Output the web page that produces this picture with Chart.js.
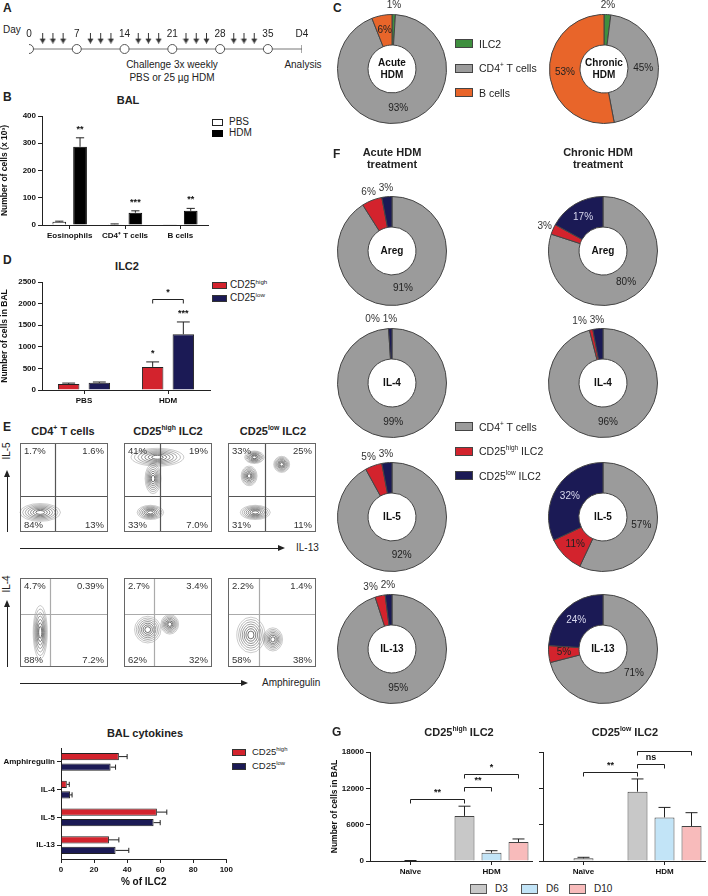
<!DOCTYPE html>
<html>
<head>
<meta charset="utf-8">
<script src="https://cdn.jsdelivr.net/npm/chart.js@4/dist/chart.umd.min.js"></script>
<style>
  body { margin: 0; background: #fff; }
  #fig { position: relative; width: 708px; height: 896px; overflow: hidden; font-family: "Liberation Sans", Arial, sans-serif; color: #222; }
  canvas { position: absolute; }
  .t { position: absolute; white-space: nowrap; font-size: 10px; line-height: 1.15; }
  .b { font-weight: bold; }
  sup { font-size: 62%; vertical-align: top; position: relative; top: -0.15em; }
  .box { position: absolute; box-sizing: border-box; border: 1px solid #333; }
</style>
</head>
<body>
<div id="fig"></div>
<script>
// ---------- data ----------
// A: protocol (days)
const weekDays = [0, 7, 14, 21, 28, 35];
const challengeDays = [2, 3.5, 5, 9, 10.5, 12, 16, 17.5, 19, 23, 24.5, 26, 30, 31.5, 33];
const analysisDay = 40;

// B: BAL cells (x 10^3)
const balCats = ['Eosinophils', 'CD4⁺ T cells', 'B cells'];
const balPBS = [12, 3, 1];
const balPBSErr = [2, 1, 0];
const balHDM = [287, 45, 52];
const balHDMErr = [33, 7, 9];
const balHDMStars = ['**', '***', '**'];

// C: share of cells, order ILC2, CD4 T cells, B cells
const cAcute = [1, 93, 6];
const cChronic = [2, 45, 53];

// D: ILC2 in BAL
const ilcCats = ['PBS', 'HDM'];
const ilcHigh = [140, 535];
const ilcHighErr = [20, 115];
const ilcHighStars = ['', '*'];
const ilcLow = [165, 1290];
const ilcLowErr = [20, 285];
const ilcLowStars = ['', '***'];
const ilcBrackets = [[0, 1, 1, 1, 2100, '*']]; // dsA, idxA, dsB, idxB, value, label

// E: flow quadrants (UL, UR, LL, LR)
const il5Quads = [['1.7%', '1.6%', '84%', '13%'], ['41%', '19%', '33%', '7.0%'], ['33%', '25%', '31%', '11%']];
const il4Quads = [['4.7%', '0.39%', '88%', '7.2%'], ['2.7%', '3.4%', '62%', '32%'], ['2.2%', '1.4%', '58%', '38%']];
const il5Gates = [[40, 40], [41, 40], [42, 40]];
const il4Gates = [[34, 60], [34, 60], [35, 60]];
// populations [x, y, spreadX, spreadY] on a 0-100 display scale
const il5Pops = [
  [[23, 22, 23, 10]],
  [[30, 22, 15, 8], [33, 60, 9, 17], [38, 84, 30, 10]],
  [[31, 22, 17, 8], [24, 63, 9, 11], [61, 76, 9, 9], [30, 84, 11, 7]]
];
const il4Pops = [
  [[23, 39, 8, 30]],
  [[27, 42, 15, 15], [52, 48, 10, 11]],
  [[26, 36, 16, 20], [51, 31, 11, 13]]
];

// F: share of cytokine+ cells, order CD4 T, CD25high ILC2, CD25low ILC2
const fRows = ['Areg', 'IL-4', 'IL-5', 'IL-13'];
const fAcute = [[91, 6, 3], [99, 0, 1], [92, 5, 3], [95, 3, 2]];
const fChronic = [[80, 3, 17], [96, 1, 3], [57, 11, 32], [71, 5, 24]];

// BAL cytokines (% of ILC2)
const cytoCats = ['Amphiregulin', 'IL-4', 'IL-5', 'IL-13'];
const cytoHigh = [35, 3.5, 58, 29];
const cytoHighErr = [5, 1.5, 6, 6];
const cytoLow = [30, 5.5, 56, 33];
const cytoLowErr = [3, 1.2, 4, 8];

// G: cells in BAL after HDM
const gCats = ['Naïve', 'HDM'];
const gHighD3 = [50, 7450];
const gHighD3Err = [30, 1600];
const gHighD6 = [null, 1370];
const gHighD6Err = [null, 330];
const gHighD10 = [null, 3140];
const gHighD10Err = [null, 500];
const gHighBrackets = [[0, 0, 0, 1, 10200, '**'], [0, 1, 1, 1, 12150, '**'], [0, 1, 2, 1, 14300, '*']];
const gLowD3 = [440, 11450];
const gLowD3Err = [170, 2100];
const gLowD6 = [null, 7200];
const gLowD6Err = [null, 1650];
const gLowD10 = [null, 5780];
const gLowD10Err = [null, 2200];
const gLowBrackets = [[0, 0, 0, 1, 14750, '**'], [0, 1, 1, 1, 16100, 'ns'], [0, 1, 2, 1, 18200, '*']];

// ---------- setup ----------
const FONT = '"Liberation Sans", Arial, sans-serif';
Chart.defaults.font.family = FONT;
Chart.defaults.color = '#111';
Chart.defaults.animation = false;
Chart.defaults.responsive = false;
Chart.defaults.maintainAspectRatio = false;
Chart.defaults.plugins.legend.display = false;
Chart.defaults.plugins.tooltip.enabled = false;

const fig = document.getElementById('fig');

function canvasAt(x, y, w, h) {
  const c = document.createElement('canvas');
  c.width = w; c.height = h;
  c.style.left = x + 'px'; c.style.top = y + 'px';
  fig.appendChild(c);
  return c.getContext('2d');
}

function label(x, y, html, css = '', anchor = 'c') {
  const d = document.createElement('div');
  d.className = 't';
  d.innerHTML = html;
  const tr = anchor === 'c' ? 'translate(-50%,-50%)' : anchor === 'l' ? 'translate(0,-50%)' : 'none';
  d.style.cssText = `left:${x}px;top:${y}px;transform:${tr};${css}`;
  fig.appendChild(d);
}

function swatch(x, y, w, h, fill, border) {
  const d = document.createElement('div');
  d.className = 'box';
  d.style.cssText = `left:${x}px;top:${y}px;width:${w}px;height:${h}px;background:${fill};border-color:${border || '#333'}`;
  fig.appendChild(d);
}

function hArrow(x1, x2, y) {
  const l = document.createElement('div');
  l.style.cssText = `position:absolute;left:${x1}px;top:${y}px;width:${x2 - x1 - 6}px;height:1px;background:#222`;
  const h = document.createElement('div');
  h.style.cssText = `position:absolute;left:${x2 - 7}px;top:${y - 3}px;width:0;height:0;border-left:7px solid #222;border-top:3.5px solid transparent;border-bottom:3.5px solid transparent`;
  fig.appendChild(l); fig.appendChild(h);
}

function vArrow(x, yBottom, yTop) {
  const l = document.createElement('div');
  l.style.cssText = `position:absolute;left:${x}px;top:${yTop + 6}px;width:1px;height:${yBottom - yTop - 6}px;background:#222`;
  const h = document.createElement('div');
  h.style.cssText = `position:absolute;left:${x - 3}px;top:${yTop}px;width:0;height:0;border-bottom:7px solid #222;border-left:3.5px solid transparent;border-right:3.5px solid transparent`;
  fig.appendChild(l); fig.appendChild(h);
}

function axisOpts(o) {
  const linear = (o.type || 'linear') === 'linear';
  const ticks = { display: o.ticks !== false, color: '#111', padding: 2, autoSkip: false, maxRotation: 0,
                  font: { size: o.tickSize || 8, weight: 'bold' } };
  if (linear) { ticks.stepSize = o.step; ticks.callback = v => String(v); }
  return {
    type: o.type || 'linear',
    min: o.min, max: o.max,
    grid: { drawOnChartArea: false, drawTicks: true, tickLength: 4, color: '#222', offset: false },
    border: { color: '#222', width: 1 },
    ticks,
    title: { display: !!o.title, text: o.title || '', color: '#111', padding: { top: 0, bottom: 2 },
             font: { size: o.titleSize || 8.5, weight: 'bold' } },
    afterFit: s => { if (o.w != null) s.width = o.w; if (o.h != null) s.height = o.h; }
  };
}

// error bars, stars and significance brackets
function annot(brackets) {
  return {
    id: 'annot',
    afterDatasetsDraw(chart) {
      const ctx = chart.ctx;
      const horiz = chart.options.indexAxis === 'y';
      const vs = horiz ? chart.scales.x : chart.scales.y;
      ctx.save();
      ctx.strokeStyle = '#222'; ctx.fillStyle = '#111'; ctx.lineWidth = 1;
      ctx.font = 'bold 9px ' + FONT; ctx.textAlign = 'center'; ctx.textBaseline = 'bottom';
      chart.data.datasets.forEach((ds, di) => {
        if (!ds.errors) return;
        chart.getDatasetMeta(di).data.forEach((bar, i) => {
          const v = ds.data[i], e = ds.errors[i];
          if (v == null) return;
          const end = vs.getPixelForValue(v + (e || 0));
          if (e) {
            ctx.beginPath();
            if (horiz) {
              const cap = bar.height * 0.35;
              ctx.moveTo(bar.x, bar.y); ctx.lineTo(end, bar.y);
              ctx.moveTo(end, bar.y - cap); ctx.lineTo(end, bar.y + cap);
            } else {
              const cap = bar.width * 0.3;
              ctx.moveTo(bar.x, bar.y); ctx.lineTo(bar.x, end);
              ctx.moveTo(bar.x - cap, end); ctx.lineTo(bar.x + cap, end);
            }
            ctx.stroke();
          }
          if (ds.stars && ds.stars[i]) ctx.fillText(ds.stars[i], bar.x, end - 4);
        });
      });
      (brackets || []).forEach(([da, ia, db, ib, val, txt]) => {
        const xa = chart.getDatasetMeta(da).data[ia].x;
        const xb = chart.getDatasetMeta(db).data[ib].x;
        const y = Math.round(vs.getPixelForValue(val)) + 0.5;
        ctx.beginPath();
        ctx.moveTo(xa, y + 4); ctx.lineTo(xa, y); ctx.lineTo(xb, y); ctx.lineTo(xb, y + 4);
        ctx.stroke();
        ctx.fillText(txt, (xa + xb) / 2, y - 2);
      });
      ctx.restore();
    }
  };
}

// ---------- A: protocol ----------
label(3, 2, 'A', 'font-size:12px;font-weight:bold', 'lt');
label(3, 30, 'Day', '', 'l');
label(172, 65, 'Challenge 3x weekly');
label(172, 78, 'PBS or 25 µg HDM');
label(303, 65, 'Analysis');

const arrowImg = document.createElement('canvas');
arrowImg.width = 7; arrowImg.height = 11;
const ag = arrowImg.getContext('2d');
ag.strokeStyle = ag.fillStyle = '#333';
ag.beginPath(); ag.moveTo(3.5, 0); ag.lineTo(3.5, 8); ag.stroke();
ag.beginPath(); ag.moveTo(0.5, 6); ag.lineTo(6.5, 6); ag.lineTo(3.5, 11); ag.closePath(); ag.fill();

const dayText = {
  id: 'dayText',
  afterDatasetsDraw(chart) {
    const { ctx, scales: { x, y } } = chart;
    ctx.save();
    ctx.font = '10px ' + FONT; ctx.fillStyle = '#222';
    ctx.textAlign = 'center'; ctx.textBaseline = 'middle';
    weekDays.forEach(d => ctx.fillText(String(d), x.getPixelForValue(d), y.getPixelForValue(0.76)));
    ctx.fillText('D4', x.getPixelForValue(analysisDay), y.getPixelForValue(0.76));
    ctx.restore();
  }
};

new Chart(canvasAt(0, 24, 318, 50), {
  type: 'scatter',
  data: {
    datasets: [
      { data: weekDays.map(d => ({ x: d, y: 0 })), pointRadius: 4.5, backgroundColor: '#fff', borderColor: '#555', borderWidth: 1, order: 1 },
      { data: challengeDays.map(d => ({ x: d, y: 0.56 })), pointStyle: arrowImg, order: 2 },
      { data: [{ x: analysisDay, y: 0 }], pointStyle: 'line', rotation: 90, pointRadius: 4, borderColor: '#555', borderWidth: 1, order: 3 },
      { type: 'line', data: [{ x: 0, y: 0 }, { x: analysisDay, y: 0 }], borderColor: '#777', borderWidth: 1, pointRadius: 0, order: 5 }
    ]
  },
  options: {
    layout: { padding: { left: 29, right: 16 } },
    scales: { x: { type: 'linear', display: false, min: 0, max: analysisDay }, y: { display: false, min: -1, max: 1 } }
  },
  plugins: [dayText]
});

// ---------- B: BAL ----------
label(3, 91, 'B', 'font-size:12px;font-weight:bold', 'lt');
label(128, 100, 'BAL', 'font-size:11px;font-weight:bold');
swatch(212, 119, 11, 7, '#fff', '#222');
label(229, 122, 'PBS', '', 'l');
swatch(212, 130, 11, 7, '#000', '#000');
label(229, 133, 'HDM', '', 'l');

new Chart(canvasAt(0, 95, 210, 150), {
  type: 'bar',
  data: {
    labels: balCats,
    datasets: [
      { data: balPBS, errors: balPBSErr, backgroundColor: '#fff', borderColor: '#111', borderWidth: 1 },
      { data: balHDM, errors: balHDMErr, stars: balHDMStars, backgroundColor: '#000', borderColor: '#000', borderWidth: 1 }
    ]
  },
  options: {
    layout: { padding: { top: 21, right: 2, left: 0, bottom: 0 } },
    datasets: { bar: { categoryPercentage: 0.75, barPercentage: 0.66 } },
    scales: {
      x: axisOpts({ type: 'category', h: 20 }),
      y: axisOpts({ min: 0, max: 400, step: 100, w: 42, title: 'Number of cells (x 10³)' })
    }
  },
  plugins: [annot()]
});

// ---------- D: ILC2 ----------
const RED = '#d3232d', NAVY = '#1b1a55', GRAY = '#9b9b9b';
label(3, 254, 'D', 'font-size:12px;font-weight:bold', 'lt');
label(127, 266, 'ILC2', 'font-size:11px;font-weight:bold');
swatch(212, 282, 15, 7, RED, '#333');
label(230, 285, 'CD25<sup>high</sup>', '', 'l');
swatch(212, 295, 15, 7, NAVY, '#333');
label(230, 298, 'CD25<sup>low</sup>', '', 'l');

new Chart(canvasAt(0, 270, 212, 140), {
  type: 'bar',
  data: {
    labels: ilcCats,
    datasets: [
      { data: ilcHigh, errors: ilcHighErr, stars: ilcHighStars, backgroundColor: RED, borderColor: '#222', borderWidth: 1 },
      { data: ilcLow, errors: ilcLowErr, stars: ilcLowStars, backgroundColor: NAVY, borderColor: '#222', borderWidth: 1 }
    ]
  },
  options: {
    layout: { padding: { top: 12, right: 2, left: 0, bottom: 0 } },
    datasets: { bar: { categoryPercentage: 0.73, barPercentage: 0.7 } },
    scales: {
      x: axisOpts({ type: 'category', h: 20 }),
      y: axisOpts({ min: 0, max: 2500, step: 500, w: 42, title: 'Number of cells in BAL' })
    }
  },
  plugins: [annot(ilcBrackets)]
});

// ---------- E: flow plots ----------
label(3, 421, 'E', 'font-size:12px;font-weight:bold', 'lt');
label(63, 431, 'CD4<sup>+</sup> T cells', 'font-size:11px;font-weight:bold');
label(168, 431, 'CD25<sup>high</sup> ILC2', 'font-size:11px;font-weight:bold');
label(273, 431, 'CD25<sup>low</sup> ILC2', 'font-size:11px;font-weight:bold');

function flowPlugin(pops, gate, quads, gateColor) {
  return {
    id: 'flowPlot',
    afterDraw(chart) {
      const { ctx, chartArea: a, scales: { x, y } } = chart;
      ctx.save();
      pops.forEach(p => {
        const cx = x.getPixelForValue(p[0]), cy = y.getPixelForValue(p[1]);
        const rx = Math.abs(x.getPixelForValue(p[0] + p[2]) - cx);
        const ry = Math.abs(y.getPixelForValue(p[1] + p[3]) - cy);
        for (let k = 0; k < 7; k++) {
          const f = 1 - k * 0.13;
          ctx.beginPath();
          ctx.ellipse(cx, cy, rx * f, ry * f, 0, 0, Math.PI * 2);
          ctx.strokeStyle = `rgba(40,40,40,${0.3 + k * 0.09})`;
          ctx.lineWidth = 0.8;
          ctx.stroke();
        }
      });
      ctx.strokeStyle = gateColor; ctx.lineWidth = 1.2;
      const gx = Math.round(x.getPixelForValue(gate[0])) + 0.5;
      const gy = Math.round(y.getPixelForValue(gate[1])) + 0.5;
      ctx.beginPath();
      ctx.moveTo(gx, a.top); ctx.lineTo(gx, a.bottom);
      ctx.moveTo(a.left, gy); ctx.lineTo(a.right, gy);
      ctx.stroke();
      ctx.strokeStyle = '#666'; ctx.lineWidth = 1;
      ctx.strokeRect(a.left + 0.5, a.top + 0.5, a.width - 1, a.height - 1);
      ctx.font = '9.5px ' + FONT; ctx.fillStyle = '#333'; ctx.textBaseline = 'middle';
      ctx.textAlign = 'left';
      ctx.fillText(quads[0], a.left + 4, a.top + 8);
      ctx.fillText(quads[2], a.left + 4, a.bottom - 7);
      ctx.textAlign = 'right';
      ctx.fillText(quads[1], a.right - 4, a.top + 8);
      ctx.fillText(quads[3], a.right - 4, a.bottom - 7);
      ctx.restore();
    }
  };
}

function flow(x, y, h, pops, gate, quads, gateColor) {
  new Chart(canvasAt(x - 1, y - 1, 90, h + 2), {
    type: 'scatter',
    data: { datasets: [] },
    options: {
      layout: { padding: 1 },
      scales: { x: { display: false, min: 0, max: 100 }, y: { display: false, min: 0, max: 100 } }
    },
    plugins: [flowPlugin(pops, gate, quads, gateColor)]
  });
}

const flowX = [20, 124, 228];
flowX.forEach((fx, i) => {
  flow(fx, 443, 89, il5Pops[i], il5Gates[i], il5Quads[i], '#555');
  flow(fx, 578, 89, il4Pops[i], il4Gates[i], il4Quads[i], '#aaa');
});
hArrow(20, 285, 548);
label(296, 548, 'IL-13', '', 'l');
vArrow(7, 532, 470);
label(7, 451, 'IL-5', 'transform:translate(-50%,-50%) rotate(-90deg)');
hArrow(20, 248, 683);
label(262, 683, 'Amphiregulin', '', 'l');
vArrow(7, 667, 600);
label(7, 584, 'IL-4', 'transform:translate(-50%,-50%) rotate(-90deg)');

// ---------- BAL cytokines ----------
label(145, 733, 'BAL cytokines', 'font-size:11px;font-weight:bold');
swatch(232, 749, 14, 7, RED, '#333');
label(252, 752, 'CD25<sup>high</sup>', 'font-size:9.5px', 'l');
swatch(232, 763, 14, 7, NAVY, '#333');
label(252, 766, 'CD25<sup>low</sup>', 'font-size:9.5px', 'l');

new Chart(canvasAt(0, 740, 235, 150), {
  type: 'bar',
  data: {
    labels: cytoCats,
    datasets: [
      { data: cytoHigh, errors: cytoHighErr, backgroundColor: RED, borderColor: '#222', borderWidth: 1 },
      { data: cytoLow, errors: cytoLowErr, backgroundColor: NAVY, borderColor: '#222', borderWidth: 1 }
    ]
  },
  options: {
    indexAxis: 'y',
    layout: { padding: { top: 8, right: 6, left: 0, bottom: 0 } },
    datasets: { bar: { categoryPercentage: 0.76, barPercentage: 0.7 } },
    scales: {
      y: axisOpts({ type: 'category', w: 61 }),
      x: axisOpts({ min: 0, max: 100, step: 20, h: 31, title: '% of ILC2', titleSize: 10 })
    }
  },
  plugins: [annot()]
});

// ---------- C and F: doughnuts ----------
function donutText(values, centerLines, outsideBelow, textColors) {
  return {
    id: 'donutText',
    afterDatasetsDraw(chart) {
      const ctx = chart.ctx;
      const arcs = chart.getDatasetMeta(0).data;
      const cx = arcs[0].x, cy = arcs[0].y;
      ctx.save();
      ctx.textAlign = 'center'; ctx.textBaseline = 'middle';
      ctx.font = 'bold 10px ' + FONT; ctx.fillStyle = '#111';
      centerLines.forEach((s, i) => ctx.fillText(s, cx, cy + (i - (centerLines.length - 1) / 2) * 12));
      ctx.font = '10px ' + FONT;
      const outside = [];
      arcs.forEach((arc, i) => {
        const v = values[i];
        const mid = (arc.startAngle + arc.endAngle) / 2;
        if (v >= outsideBelow) {
          const r = (arc.innerRadius + arc.outerRadius) / 2;
          ctx.fillStyle = textColors[i];
          ctx.fillText(v + '%', cx + Math.cos(mid) * r, cy + Math.sin(mid) * r);
        } else {
          const r = arc.outerRadius + 9;
          outside.push({ s: v + '%', x: cx + Math.cos(mid) * r, y: cy + Math.sin(mid) * r });
        }
      });
      outside.sort((a, b) => b.x - a.x);
      let limit = Infinity;
      ctx.fillStyle = '#333';
      outside.forEach(o => {
        const w = ctx.measureText(o.s).width;
        const x = Math.min(o.x, limit - 3 - w / 2);
        ctx.fillText(o.s, x, o.y);
        limit = x - w / 2;
      });
      ctx.restore();
    }
  };
}

function donut(cx, cy, values, colors, centerLines, outsideBelow, textColors) {
  const size = 180;
  new Chart(canvasAt(cx - size / 2, cy - size / 2, size, size), {
    type: 'doughnut',
    data: { labels: values.map((_, i) => i), datasets: [{ data: values, backgroundColor: colors, borderColor: '#444', borderWidth: 1 }] },
    options: { cutout: '44%', layout: { padding: 35 } },
    plugins: [donutText(values, centerLines, outsideBelow, textColors)]
  });
}

label(333, 2, 'C', 'font-size:12px;font-weight:bold', 'lt');
const cColors = ['#3f8f3f', GRAY, '#e8652a'];
donut(392, 69, cAcute, cColors, ['Acute', 'HDM'], 5, ['#222', '#222', '#222']);
donut(604, 69, cChronic, cColors, ['Chronic', 'HDM'], 5, ['#222', '#222', '#222']);
[['ILC2', cColors[0]], ['CD4<sup>+</sup> T cells', GRAY], ['B cells', cColors[2]]].forEach(([t, c], i) => {
  swatch(455, 39 + i * 24.5, 18, 9, c, '#444');
  label(479, 43.5 + i * 24.5, t, 'font-size:10.5px', 'l');
});

label(333, 148, 'F', 'font-size:12px;font-weight:bold', 'lt');
label(392, 152, 'Acute HDM', 'font-size:11px;font-weight:bold');
label(392, 164, 'treatment', 'font-size:11px;font-weight:bold');
label(598, 152, 'Chronic HDM', 'font-size:11px;font-weight:bold');
label(598, 164, 'treatment', 'font-size:11px;font-weight:bold');
const fColors = [GRAY, RED, NAVY];
const fRowY = [251, 383, 517, 649];
fRows.forEach((name, r) => {
  donut(392, fRowY[r], fAcute[r], fColors, [name], 10, ['#222', '#222', '#d8d8ee']);
  donut(603, fRowY[r], fChronic[r], fColors, [name], 4, ['#222', '#222', '#d8d8ee']);
});
[['CD4<sup>+</sup> T cells', GRAY], ['CD25<sup>high</sup> ILC2', RED], ['CD25<sup>low</sup> ILC2', NAVY]].forEach(([t, c], i) => {
  swatch(455, 422 + i * 24.5, 18, 9, c, '#444');
  label(479, 426.5 + i * 24.5, t, 'font-size:10.5px', 'l');
});

// ---------- G ----------
label(332, 726, 'G', 'font-size:12px;font-weight:bold', 'lt');
label(459, 732, 'CD25<sup>high</sup> ILC2', 'font-size:11px;font-weight:bold');
label(625, 732, 'CD25<sup>low</sup> ILC2', 'font-size:11px;font-weight:bold');
const gColors = ['#c8c8c8', '#c2e4f7', '#f8bbbb'];
['D3', 'D6', 'D10'].forEach((t, i) => {
  const bx = [470, 521, 569][i];
  swatch(bx, 884, 17, 10, gColors[i], '#555');
  label(bx + 25, 889, t, '', 'l');
});

function gPanel(left, width, padLeft, axisW, labelsOn, vals, errs, brackets) {
  new Chart(canvasAt(left, 745, width, 134), {
    type: 'bar',
    data: {
      labels: gCats,
      datasets: vals.map((v, k) => ({ data: v, errors: errs[k], backgroundColor: gColors[k], borderColor: '#444', borderWidth: 1 }))
    },
    options: {
      layout: { padding: { left: padLeft, right: 3, top: 7, bottom: 0 } },
      datasets: { bar: { categoryPercentage: 1, barPercentage: 0.74, maxBarThickness: 20, skipNull: true } },
      scales: {
        x: axisOpts({ type: 'category', h: 18 }),
        y: axisOpts({ min: 0, max: 18000, step: 6000, w: axisW, ticks: labelsOn, title: labelsOn ? 'Number of cells in BAL' : '' })
      }
    },
    plugins: [annot(brackets)]
  });
}
gPanel(300, 235, 30, 40, true, [gHighD3, gHighD6, gHighD10], [gHighD3Err, gHighD6Err, gHighD10Err], gHighBrackets);
gPanel(536, 172, 0, 7, false, [gLowD3, gLowD6, gLowD10], [gLowD3Err, gLowD6Err, gLowD10Err], gLowBrackets);
</script>
</body>
</html>
